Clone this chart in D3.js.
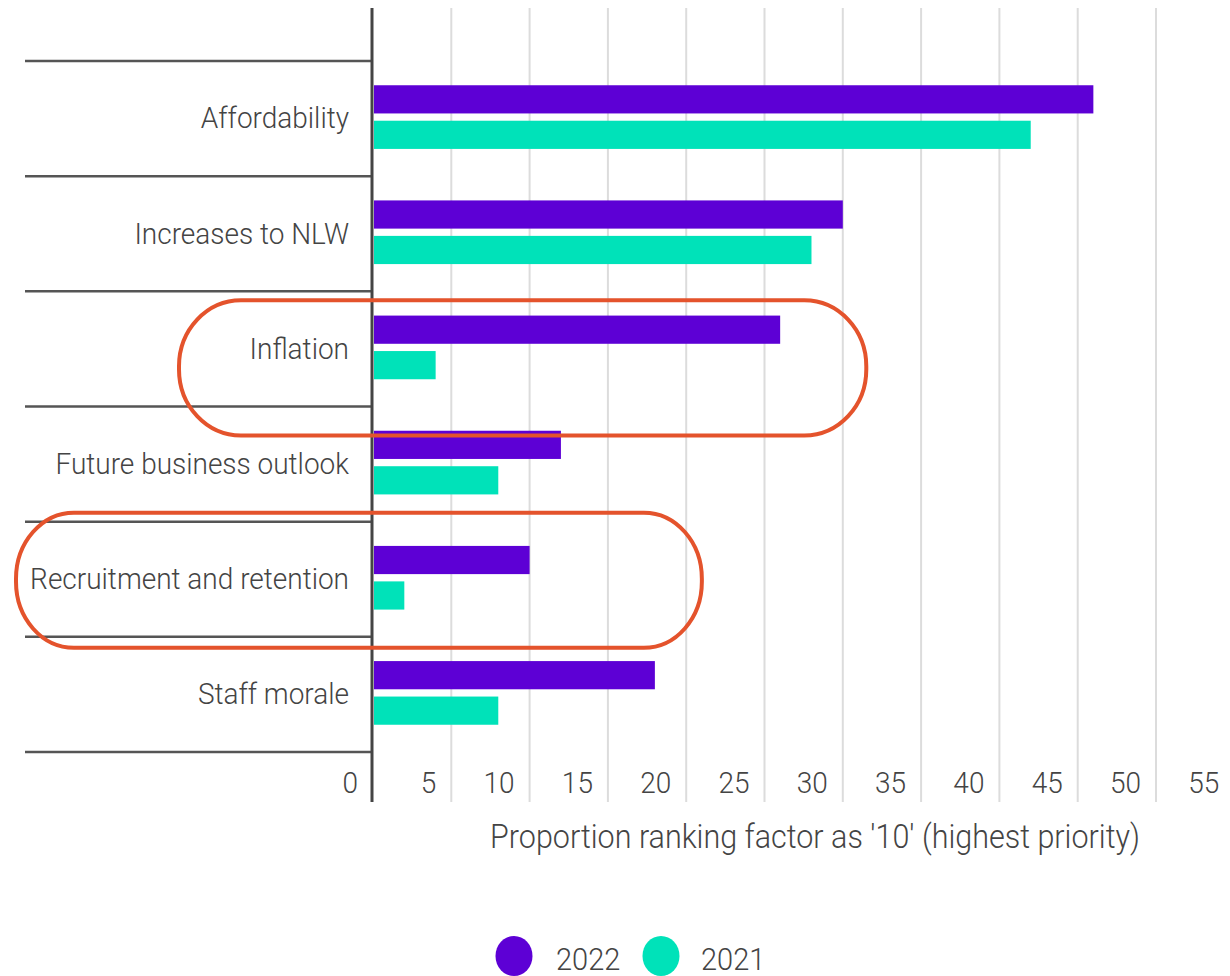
<!DOCTYPE html>
<html>
<head>
<meta charset="utf-8">
<script src="https://cdn.jsdelivr.net/npm/d3@7"></script>
<style>
  html, body { margin: 0; padding: 0; background: #fff; }
  svg { display: block; }
  text { font-family: Roboto, "Open Sans", sans-serif; font-weight: 300; fill: #444; }
</style>
</head>
<body>
<svg id="chart" width="1230" height="976"></svg>
<script>
// Factors ranked as top priority, share of respondents (%)
const categories = ["Affordability", "Increases to NLW", "Inflation", "Future business outlook", "Recruitment and retention", "Staff morale"];
const series = ["2022", "2021"];
const values2022 = [46, 30, 26, 12, 10, 18];
const values2021 = [42, 28, 4, 8, 2, 8];
const xTicks = [0, 5, 10, 15, 20, 25, 30, 35, 40, 45, 50, 55];
const highlighted = ["Inflation", "Recruitment and retention"];
const axisTitle = "Proportion ranking factor as '10' (highest priority)";

const colors = { "2022": "#5d00d5", "2021": "#00e2b9" };
const seriesValues = { "2022": values2022, "2021": values2021 };

// text glyphs are drawn slightly tall and narrow
const textStretch = 1.08;
const place = (px, py) => `translate(${px},${py}) scale(1,${textStretch})`;

const svg = d3.select("#chart");

const x = d3.scaleLinear().domain([0, 55]).range([373, 373 + 55 * 15.66]);
const y = d3.scaleBand().domain(categories).range([61, 752]).padding(0);
const inner = d3.scaleBand().domain(series)
  .range([-1.5, y.bandwidth() - 1.5])
  .paddingInner(0.205).paddingOuter(0.726);

const plotTop = 8, plotBottom = 802;

// vertical gridlines
svg.append("g").selectAll("line")
  .data(xTicks.filter(t => t > 0))
  .join("line")
  .attr("x1", d => x(d)).attr("x2", d => x(d))
  .attr("y1", plotTop).attr("y2", plotBottom)
  .attr("stroke", "#dcdcdc").attr("stroke-width", 2);

// row separators in the label column
const boundaries = categories.map(c => y(c)).concat([y(categories[categories.length - 1]) + y.bandwidth()]);
svg.append("g").selectAll("line")
  .data(boundaries)
  .join("line")
  .attr("x1", 25).attr("x2", x(0))
  .attr("y1", d => d).attr("y2", d => d)
  .attr("stroke", "#555").attr("stroke-width", 2.5);

// bars
const rows = categories.map((c, i) => ({ cat: c, i }));
const barG = svg.append("g");
series.forEach(s => {
  barG.append("g").selectAll("rect")
    .data(rows)
    .join("rect")
    .attr("x", x(0) + 1)
    .attr("y", d => y(d.cat) + inner(s))
    .attr("width", d => x(seriesValues[s][d.i]) - x(0) - 1)
    .attr("height", inner.bandwidth())
    .attr("fill", colors[s]);
});

// category labels
svg.append("g").selectAll("text")
  .data(categories)
  .join("text")
  .attr("transform", d => place(349, y(d) + y.bandwidth() / 2 - 1))
  .attr("dy", "0.36em")
  .attr("text-anchor", "end")
  .attr("font-size", 28)
  .text(d => d);

// value axis line
svg.append("line")
  .attr("x1", x(0) - 1).attr("x2", x(0) - 1)
  .attr("y1", plotTop).attr("y2", plotBottom)
  .attr("stroke", "#444").attr("stroke-width", 3);

// tick labels sit just left of each gridline
svg.append("g").selectAll("text")
  .data(xTicks)
  .join("text")
  .attr("transform", d => place(x(d) - 15, 793))
  .attr("text-anchor", "end")
  .attr("font-size", 28)
  .text(d => d);

// axis title
svg.append("text")
  .attr("transform", place(815, 848))
  .attr("text-anchor", "middle")
  .attr("font-size", 30.5)
  .text(axisTitle);

// highlight outlines around selected rows
const outlines = [
  { cat: highlighted[0], left: 179, right: x(31.5), top: 9, bottom: 29, rx: 62, ry: 66 },
  { cat: highlighted[1], left: 16, right: x(21), top: -9, bottom: 11, rx: 58, ry: 66 }
];
svg.append("g").selectAll("rect")
  .data(outlines)
  .join("rect")
  .attr("x", d => d.left)
  .attr("y", d => y(d.cat) + d.top)
  .attr("width", d => d.right - d.left)
  .attr("height", d => y.bandwidth() + d.bottom - d.top)
  .attr("rx", d => d.rx).attr("ry", d => d.ry)
  .attr("fill", "none")
  .attr("stroke", "#e4532c").attr("stroke-width", 4);

// legend
const legend = svg.append("g");
const legendItems = [{ s: "2022", cx: 514, tx: 556 }, { s: "2021", cx: 661, tx: 701 }];
legend.selectAll("ellipse")
  .data(legendItems)
  .join("ellipse")
  .attr("cx", d => d.cx).attr("cy", 956)
  .attr("rx", 18.5).attr("ry", 20)
  .attr("fill", d => colors[d.s]);
legend.selectAll("text")
  .data(legendItems)
  .join("text")
  .attr("transform", d => place(d.tx, 970))
  .attr("font-size", 29)
  .text(d => d.s);
</script>
</body>
</html>
